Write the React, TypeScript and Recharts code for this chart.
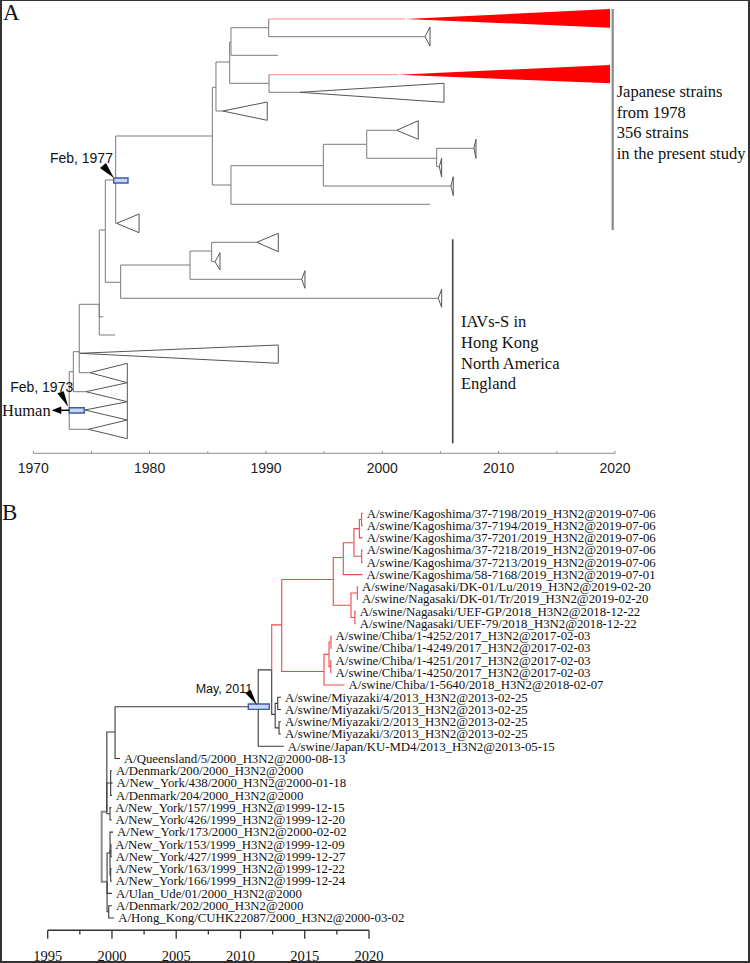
import React from 'react';
import {
  ComposedChart,
  Line,
  Area,
  Scatter,
  XAxis,
  YAxis,
  ReferenceLine,
  ReferenceArea,
  ReferenceDot,
} from 'recharts';

const SERIF = '"Liberation Serif", "Times New Roman", Times, serif';
const SANS = '"Liberation Sans", Arial, Helvetica, sans-serif';

// ================= Panel A data (x = year, y = vertical tree position) =================
const ticksA = [1970, 1975, 1980, 1985, 1990, 1995, 2000, 2005, 2010, 2015, 2020];

// internal nodes: [id, parent, year, position]
const nodesA: [string, string | null, number, number][] = [
  ['root', null, 1973.09, 410.3],
  ['p', 'root', 1973.44, 371.7],
  ['n79', 'p', 1973.95, 351.7],
  ['n99', 'n79', 1975.67, 304.3],
  ['n105', 'n99', 1976.19, 230],
  ['n115', 'n105', 1977.08, 180],
  ['n120', 'n105', 1977.51, 282.3],
  ['n190', 'n120', 1983.47, 265],
  ['n211', 'n190', 1985.33, 251],
  ['n212', 'n115', 1985.39, 136],
  ['n216', 'n212', 1985.7, 87.3],
  ['n229', 'n216', 1986.88, 62],
  ['n231', 'n229', 1986.99, 42],
  ['n268', 'n231', 1990.23, 27.7],
  ['n269', 'n229', 1990.26, 83.3],
  ['n231b', 'n212', 1986.99, 185],
  ['n323', 'n231b', 1994.93, 165.7],
  ['n366', 'n323', 1998.66, 144.3],
  ['n436', 'n366', 2004.67, 158.3],
];

// single leaves: [parent, year, position]
const leavesA: [string, number, number][] = [
  ['n99', 1976.02, 316.7],
  ['n99', 1977.02, 335],
  ['n231', 1991.03, 55.3],
  ['n231b', 2004.1, 204.3],
];

// collapsed clades: [parent, apexYear, baseYear, position, top, bottom, japanese]
const cladesA: [string, number, number, number, number, number, boolean][] = [
  ['root', 1974.44, 1978.08, 410, 401.7, 420, false],
  ['root', 1974.73, 1978.08, 429.3, 420, 438.7, false],
  ['p', 1974.53, 1978.08, 391.7, 382.7, 401.7, false],
  ['n79', 1974.01, 1991.06, 353.3, 345, 363.3, false],
  ['n79', 1974.87, 1978.08, 372.7, 363.3, 382.7, false],
  ['n115', 1977.17, 1979.09, 223.3, 214, 232.7, false],
  ['n120', 2004.81, 2005.1, 298.3, 289.3, 307.3, false],
  ['n190', 1993.07, 1993.35, 279.3, 270.7, 288.3, false],
  ['n211', 1989.2, 1991.06, 242.3, 233.3, 251.7, false],
  ['n211', 1985.62, 1986.05, 261.7, 252.7, 270, false],
  ['n216', 1986.28, 1990.11, 111, 102, 120.3, false],
  ['n268', 2001.95, 2019.57, 19, 9, 27.7, true],
  ['n268', 2003.67, 2004.1, 36.7, 27, 46, false],
  ['n269', 2001.35, 2019.57, 74.7, 65, 83.3, true],
  ['n269', 1992.92, 2005.3, 92.3, 83.3, 102.3, false],
  ['n323', 2005.9, 2006.1, 186, 176.7, 195.7, false],
  ['n366', 2001.24, 2003.09, 130.3, 120.7, 139.3, false],
  ['n436', 2007.88, 2008.05, 148.3, 139.3, 158.3, false],
  ['n436', 2004.9, 2005.1, 166.7, 158.3, 177, false],
];

// group bars: [year, top, bottom, text lines, text offset]
const groupBarsA: [number, number, number, string[], number][] = [
  [2019.8, 9, 230, ['Japanese strains', 'from 1978', '356 strains', 'in the present study'], 4],
  [2006.05, 239.3, 443.3, ['IAVs-S in', 'Hong Kong', 'North America', 'England'], 8.3],
];

// HPD boxes: [x1, x2, y1, y2]
const hpdA: [number, number, number, number][] = [
  [1976.91, 1978.14, 178, 183],
  [1973.09, 1974.38, 407.7, 413],
];

// ================= Panel B data (x = year, y = tip row) =================
const ticksB = [1995, 1997.5, 2000, 2002.5, 2005, 2007.5, 2010, 2012.5, 2015, 2017.5, 2020];

const tipLabelsB = [
  'A/swine/Kagoshima/37-7198/2019_H3N2@2019-07-06',
  'A/swine/Kagoshima/37-7194/2019_H3N2@2019-07-06',
  'A/swine/Kagoshima/37-7201/2019_H3N2@2019-07-06',
  'A/swine/Kagoshima/37-7218/2019_H3N2@2019-07-06',
  'A/swine/Kagoshima/37-7213/2019_H3N2@2019-07-06',
  'A/swine/Kagoshima/58-7168/2019_H3N2@2019-07-01',
  'A/swine/Nagasaki/DK-01/Lu/2019_H3N2@2019-02-20',
  'A/swine/Nagasaki/DK-01/Tr/2019_H3N2@2019-02-20',
  'A/swine/Nagasaki/UEF-GP/2018_H3N2@2018-12-22',
  'A/swine/Nagasaki/UEF-79/2018_H3N2@2018-12-22',
  'A/swine/Chiba/1-4252/2017_H3N2@2017-02-03',
  'A/swine/Chiba/1-4249/2017_H3N2@2017-02-03',
  'A/swine/Chiba/1-4251/2017_H3N2@2017-02-03',
  'A/swine/Chiba/1-4250/2017_H3N2@2017-02-03',
  'A/swine/Chiba/1-5640/2018_H3N2@2018-02-07',
  'A/swine/Miyazaki/4/2013_H3N2@2013-02-25',
  'A/swine/Miyazaki/5/2013_H3N2@2013-02-25',
  'A/swine/Miyazaki/2/2013_H3N2@2013-02-25',
  'A/swine/Miyazaki/3/2013_H3N2@2013-02-25',
  'A/swine/Japan/KU-MD4/2013_H3N2@2013-05-15',
  'A/Queensland/5/2000_H3N2@2000-08-13',
  'A/Denmark/200/2000_H3N2@2000',
  'A/New_York/438/2000_H3N2@2000-01-18',
  'A/Denmark/204/2000_H3N2@2000',
  'A/New_York/157/1999_H3N2@1999-12-15',
  'A/New_York/426/1999_H3N2@1999-12-20',
  'A/New_York/173/2000_H3N2@2000-02-02',
  'A/New_York/153/1999_H3N2@1999-12-09',
  'A/New_York/427/1999_H3N2@1999-12-27',
  'A/New_York/163/1999_H3N2@1999-12-22',
  'A/New_York/166/1999_H3N2@1999-12-24',
  'A/Ulan_Ude/01/2000_H3N2@2000',
  'A/Denmark/202/2000_H3N2@2000',
  'A/Hong_Kong/CUHK22087/2000_H3N2@2000-03-02',
];

const tipYearsB = [
  2019.51, 2019.51, 2019.51, 2019.51, 2019.51, 2019.5, 2019.14, 2019.14, 2018.97, 2018.97,
  2017.09, 2017.09, 2017.09, 2017.09, 2018.1, 2013.15, 2013.15, 2013.15, 2013.15, 2013.37,
  2000.62, 2000.0, 2000.05, 2000.0, 1999.95, 1999.97, 2000.09, 1999.94, 1999.99, 1999.97,
  1999.98, 2000.0, 2000.0, 2000.17,
];

const tipParentsB = [
  'kg12', 'kg12', 'kg3', 'kg45', 'kg45', 'kg', 'ng78', 'ng78', 'ng910', 'ng910',
  'c12', 'c12', 'c34', 'c34', 'c', 'm1', 'm1', 'm2', 'm2', 'r',
  'q', 'ha3', 'ha3', 'ha3', 'ha4', 'ha4', 'hb1', 'hb2', 'hb2', 'hb3',
  'hb3', 'hb', 'hb4', 'hb4',
];

// internal nodes: [id, parent, year, row]
const nodesB: [string, string | null, number, number][] = [
  ['root', null, 1999.2, 28.2],
  ['ha', 'root', 1999.6, 25.34],
  ['hb', 'root', 1999.62, 31.05],
  ['q', 'ha', 2000.24, 18.84],
  ['ha3', 'ha', 1999.9, 23],
  ['ha4', 'ha', 1999.85, 25.5],
  ['hb1', 'hb', 1999.85, 28.7],
  ['hb2', 'hb1', 1999.92, 28.5],
  ['hb3', 'hb1', 1999.9, 30.5],
  ['hb4', 'hb', 1999.75, 33.5],
  ['r', 'q', 2011.38, 16.77],
  ['s', 'r', 2012.43, 13.77],
  ['m', 's', 2012.7, 17.4],
  ['m1', 'm', 2012.9, 16.5],
  ['m2', 'm', 2013.0, 18.5],
  ['j', 's', 2013.21, 10.1],
  ['k', 'j', 2017.22, 6.4],
  ['kg', 'k', 2018.0, 4.6],
  ['kg5', 'kg', 2018.83, 3.4],
  ['kg3', 'kg5', 2019.25, 2.25],
  ['kg12', 'kg3', 2019.42, 1.5],
  ['kg45', 'kg5', 2019.43, 4.5],
  ['ng', 'k', 2018.6, 8.5],
  ['ng78', 'ng', 2019.09, 7.5],
  ['ng910', 'ng', 2018.9, 9.5],
  ['c', 'j', 2016.5, 13.9],
  ['c4', 'c', 2016.89, 12.5],
  ['c12', 'c4', 2017.04, 11.5],
  ['c34', 'c4', 2017.03, 13.5],
];
const redCladeRootB = 'j';

// HPD box B: [x1, x2, y1, y2]
const hpdB: [number, number, number, number] = [2010.61, 2012.24, 16.55, 16.99];

// ================= helpers =================
const GRAY_A = '#7a7a7a';
const TRI_A = '#555555';
const PINK_A = '#ff8a8a';
const RED_FILL = '#ff0000';
const DARK_B = '#3a3a3a';
const RED_B = '#f04848';
const ROOT_B = '#8c8c8c';

type P = { x: number; y: number };

function seg(key: string, pts: P[], color: string, w = 1) {
  return (
    <Line
      key={key}
      data={pts}
      dataKey="y"
      type="linear"
      stroke={color}
      strokeWidth={w}
      dot={false}
      activeDot={false}
      legendType="none"
      isAnimationActive={false}
    />
  );
}

function elbow(key: string, px: number, py: number, cx: number, cy: number, vColor: string, hColor: string, w = 1) {
  if (vColor === hColor) {
    return [seg(key, [{ x: px, y: py }, { x: px, y: cy }, { x: cx, y: cy }], vColor, w)];
  }
  return [
    seg(key + 'v', [{ x: px, y: py }, { x: px, y: cy }], vColor, w),
    seg(key + 'h', [{ x: px, y: cy }, { x: cx, y: cy }], hColor, w),
  ];
}

const TickA = (props: any) => {
  const { x, y, payload } = props;
  const major = payload.value % 10 === 0;
  return (
    <g>
      <line x1={x} y1={y} x2={x} y2={y - (major ? 2.5 : 2)} stroke="#8c8c8c" strokeWidth={1} />
      {major && (
        <text x={x} y={y + 19.4} textAnchor="middle" fontFamily={SANS} fontSize={14} fill="#222">
          {payload.value}
        </text>
      )}
    </g>
  );
};

const TickB = (props: any) => {
  const { x, y, payload } = props;
  const major = payload.value % 5 === 0;
  return (
    <g>
      <line x1={x} y1={y} x2={x} y2={y + (major ? 8.5 : 4.3)} stroke="#333" strokeWidth={1.3} />
      {major && (
        <text x={x} y={y + 31} textAnchor="middle" fontFamily={SERIF} fontSize={14.5} fill="#111">
          {payload.value}
        </text>
      )}
    </g>
  );
};

const BarLabel = (props: any) => {
  const { viewBox, lines, dx } = props;
  if (!viewBox) return null;
  const x0 = viewBox.x + dx;
  const y0 = viewBox.y + 88;
  return (
    <text x={x0} y={y0} fontFamily={SERIF} fontSize={16.5} fill="#111">
      {lines.map((l: string, i: number) => (
        <tspan key={i} x={x0} y={y0 + i * 20.6}>
          {l}
        </tspan>
      ))}
    </text>
  );
};

const Note1977 = (p: any) => {
  const { cx, cy } = p;
  return (
    <g>
      <polygon points={`${cx - 1.7},${cy - 2} ${cx - 15.7},${cy - 12} ${cx - 9.7},${cy - 17}`} fill="#000" />
      <text x={cx - 2.7} y={cy - 17.5} textAnchor="end" fontFamily={SANS} fontSize={14} fill="#111">
        Feb, 1977
      </text>
    </g>
  );
};

const Note1973 = (p: any) => {
  const { cx, cy } = p;
  return (
    <g>
      <polygon points={`${cx - 1},${cy - 3.6} ${cx - 12},${cy - 17} ${cx - 5.5},${cy - 19}`} fill="#000" />
      <text x={cx + 4} y={cy - 18.6} textAnchor="end" fontFamily={SANS} fontSize={14} fill="#111">
        Feb, 1973
      </text>
      <line x1={cx} y1={cy} x2={cx - 9} y2={cy} stroke="#000" strokeWidth={1.5} />
      <polygon points={`${cx - 17.5},${cy} ${cx - 8},${cy - 3.8} ${cx - 8},${cy + 3.8}`} fill="#000" />
      <text x={cx - 18.6} y={cy + 6} textAnchor="end" fontFamily={SERIF} fontSize={16.5} fill="#111">
        Human
      </text>
    </g>
  );
};

const Note2011 = (p: any) => {
  const { cx, cy } = p;
  return (
    <g>
      <polygon points={`${cx - 1.3},${cy - 1.7} ${cx - 13},${cy - 13.7} ${cx - 7.5},${cy - 17}`} fill="#000" />
      <text x={cx - 6} y={cy - 13.2} textAnchor="end" fontFamily={SANS} fontSize={12.5} fill="#111">
        May, 2011
      </text>
    </g>
  );
};

const TipLabel = (p: any) => {
  const { cx, cy, payload } = p;
  if (cx == null || cy == null) return null;
  return (
    <text x={cx + 4} y={cy + 4.3} fontFamily={SERIF} fontSize={12.8} fill="#111">
      {payload.label}
    </text>
  );
};

// ================= Panel A =================
function PanelA() {
  const map: Record<string, { x: number; y: number }> = {};
  nodesA.forEach(([id, , x, y]) => (map[id] = { x, y }));
  const items: React.ReactNode[] = [];
  nodesA.forEach(([id, parent, x, y]) => {
    if (!parent) return;
    const pa = map[parent];
    items.push(...elbow('na-' + id, pa.x, pa.y, x, y, GRAY_A, GRAY_A));
  });
  leavesA.forEach(([parent, x, y], i) => {
    const pa = map[parent];
    items.push(...elbow('la-' + i, pa.x, pa.y, x, y, GRAY_A, GRAY_A));
  });
  cladesA.forEach(([parent, ax, bx, row, top, bot, jp], i) => {
    const pa = map[parent];
    items.push(...elbow('ca-' + i, pa.x, pa.y, ax, row, GRAY_A, jp ? PINK_A : GRAY_A));
    if (jp) {
      items.push(
        <Area
          key={'fa-' + i}
          data={[
            { x: ax, y: [row, row] },
            { x: bx, y: [top, bot] },
          ]}
          dataKey="y"
          type="linear"
          stroke="none"
          fill={RED_FILL}
          fillOpacity={1}
          dot={false}
          activeDot={false}
          legendType="none"
          isAnimationActive={false}
        />
      );
    } else {
      items.push(
        seg(
          'ta-' + i,
          [
            { x: ax, y: row },
            { x: bx, y: top },
            { x: bx, y: bot },
            { x: ax, y: row },
          ],
          TRI_A
        )
      );
    }
  });

  return (
    <ComposedChart width={750} height={480} margin={{ top: 0, right: 135, bottom: 0, left: 33.3 }}>
      <XAxis
        type="number"
        dataKey="x"
        domain={[1970, 2020]}
        ticks={ticksA}
        interval={0}
        tickSize={0}
        tickMargin={0}
        tickLine={false}
        axisLine={{ stroke: '#8c8c8c', strokeWidth: 1 }}
        height={26.7}
        tick={TickA}
      />
      <YAxis type="number" dataKey="y" domain={[0, 453.3]} reversed hide width={0} />
      {items}
      {groupBarsA.map(([x, top, bot, lines, dx], i) => (
        <ReferenceLine
          key={'bar' + i}
          segment={[
            { x, y: top },
            { x, y: bot },
          ]}
          stroke={i === 0 ? '#8a8a8a' : '#444'}
          strokeWidth={i === 0 ? 2.2 : 1.6}
          label={<BarLabel lines={lines} dx={dx} />}
        />
      ))}
      {hpdA.map(([x1, x2, y1, y2], i) => (
        <ReferenceArea
          key={'hpd' + i}
          x1={x1}
          x2={x2}
          y1={y1}
          y2={y2}
          fill="#c9d6f0"
          fillOpacity={1}
          stroke="#3b5ca6"
          strokeWidth={1.4}
          zIndex={1500}
        />
      ))}
      <ReferenceDot x={nodesA[5][2]} y={nodesA[5][3]} r={0} shape={Note1977} zIndex={1600} />
      <ReferenceDot x={nodesA[0][2]} y={nodesA[0][3]} r={0} shape={Note1973} zIndex={1600} />
    </ComposedChart>
  );
}

// ================= Panel B =================
function PanelB() {
  const map: Record<string, { x: number; y: number; parent: string | null }> = {};
  nodesB.forEach(([id, parent, x, y]) => (map[id] = { x, y, parent }));
  const isRed = (id: string): boolean => {
    let cur: string | null = id;
    while (cur) {
      if (cur === redCladeRootB) return true;
      cur = map[cur] ? map[cur].parent : null;
    }
    return false;
  };
  const items: React.ReactNode[] = [];
  nodesB.forEach(([id, parent, x, y]) => {
    if (!parent) return;
    const pa = map[parent];
    const col = isRed(id) ? RED_B : parent === 'root' ? ROOT_B : DARK_B;
    items.push(...elbow('nb-' + id, pa.x, pa.y, x, y, col, col, parent === 'root' ? 2 : 1.1));
  });
  const tips = tipLabelsB.map((label, i) => ({ x: tipYearsB[i], y: i + 1, label }));
  tips.forEach((t, i) => {
    const parent = tipParentsB[i];
    const pa = map[parent];
    const col = isRed(parent) ? RED_B : DARK_B;
    items.push(...elbow('tb-' + i, pa.x, pa.y, t.x, t.y, col, col, 1.1));
  });

  return (
    <ComposedChart width={750} height={483} margin={{ top: 8.8, right: 381, bottom: 0, left: 47.7 }}>
      <XAxis
        type="number"
        dataKey="x"
        domain={[1995, 2020]}
        ticks={ticksB}
        interval={0}
        tickSize={0}
        tickMargin={0}
        tickLine={false}
        axisLine={{ stroke: '#333', strokeWidth: 1.4 }}
        height={32.8}
        tick={TickB}
      />
      <YAxis type="number" dataKey="y" domain={[-1, 35]} reversed hide width={0} />
      {items}
      <Scatter data={tips} dataKey="y" shape={TipLabel} legendType="none" isAnimationActive={false} />
      <ReferenceArea
        x1={hpdB[0]}
        x2={hpdB[1]}
        y1={hpdB[2]}
        y2={hpdB[3]}
        fill="#c9d6f0"
        fillOpacity={1}
        stroke="#3b5ca6"
        strokeWidth={1.4}
        zIndex={1500}
      />
      <ReferenceDot x={nodesB[10][2]} y={nodesB[10][3]} r={0} shape={Note2011} zIndex={1600} />
    </ComposedChart>
  );
}

export default function App() {
  return (
    <div
      style={{
        position: 'absolute',
        left: 0,
        top: 0,
        width: 750,
        height: 963,
        overflow: 'hidden',
        background: '#fff',
      }}
    >
      <div style={{ position: 'absolute', left: 0, top: 0 }}>
        <PanelA />
      </div>
      <div style={{ position: 'absolute', left: 0, top: 480 }}>
        <PanelB />
      </div>
      <svg width={750} height={963} style={{ position: 'absolute', left: 0, top: 0, pointerEvents: 'none' }}>
        <text x={3} y={20} fontFamily={SERIF} fontSize={23} fill="#111">
          A
        </text>
        <text x={2} y={520} fontFamily={SERIF} fontSize={23} fill="#111">
          B
        </text>
      </svg>
      <div
        style={{
          position: 'absolute',
          left: 0,
          top: 0,
          width: 750,
          height: 963,
          boxSizing: 'border-box',
          borderTop: '1px solid #333',
          borderLeft: '2px solid #333',
          borderRight: '2px solid #333',
          borderBottom: '2px solid #333',
          pointerEvents: 'none',
        }}
      />
    </div>
  );
}
